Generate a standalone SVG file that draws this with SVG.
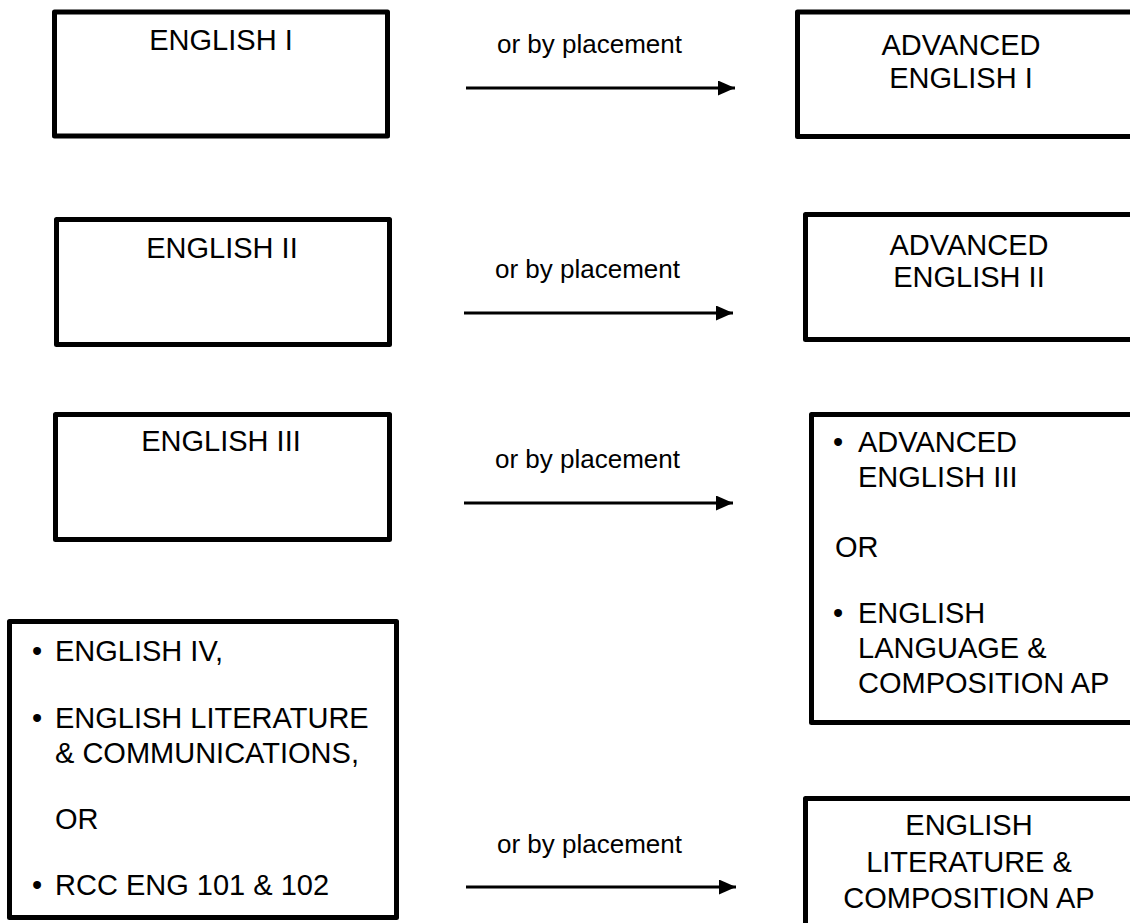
<svg xmlns="http://www.w3.org/2000/svg" width="1130" height="923" viewBox="0 0 1130 923">
<style>
.box{fill:#fff;stroke:#000;stroke-width:5;stroke-linejoin:round}
.t{font-family:"Liberation Sans",Arial,sans-serif;font-size:29px;fill:#000}
.c{text-anchor:middle}
.lbl{font-family:"Liberation Sans",Arial,sans-serif;font-size:26px;fill:#000}
.conn{stroke:#000;stroke-width:3;fill:none}
</style>
<defs>
<marker id="ah" markerUnits="userSpaceOnUse" markerWidth="17" markerHeight="15" refX="17" refY="7.5" orient="auto">
<path d="M0,0 L17,7.5 L0,15 z" fill="#000"/>
</marker>
</defs>
<rect width="1130" height="923" fill="#fff"/>
<g id="english1">
<rect class="box" x="54.5" y="12" width="333" height="124"/>
<text class="t c" x="221" y="50">ENGLISH I</text>
</g>
<g id="adv-english1">
<rect class="box" x="797.5" y="12" width="345" height="124.5"/>
<text class="t c" x="961" y="55">ADVANCED</text>
<text class="t c" x="961" y="88">ENGLISH I</text>
</g>
<g id="english2">
<rect class="box" x="56.5" y="219.5" width="333" height="125"/>
<text class="t c" x="222" y="258">ENGLISH II</text>
</g>
<g id="adv-english2">
<rect class="box" x="805.5" y="214.5" width="340" height="125"/>
<text class="t c" x="969" y="255">ADVANCED</text>
<text class="t c" x="969" y="287">ENGLISH II</text>
</g>
<g id="english3">
<rect class="box" x="55.5" y="414.5" width="334" height="125"/>
<text class="t c" x="221" y="451">ENGLISH III</text>
</g>
<g id="adv-english3">
<rect class="box" x="811.5" y="414.5" width="340" height="308"/>
<text class="t" x="833" y="452">•</text>
<text class="t" x="858" y="452">ADVANCED</text>
<text class="t" x="858" y="487">ENGLISH III</text>
<text class="t" x="835" y="557">OR</text>
<text class="t" x="833" y="623">•</text>
<text class="t" x="858" y="623">ENGLISH</text>
<text class="t" x="858" y="658">LANGUAGE &amp;</text>
<text class="t" x="858" y="693">COMPOSITION AP</text>
</g>
<g id="english4">
<rect class="box" x="9.5" y="621.5" width="387" height="296"/>
<text class="t" x="32" y="661">•</text>
<text class="t" x="55" y="661">ENGLISH IV,</text>
<text class="t" x="32" y="728">•</text>
<text class="t" x="55" y="728">ENGLISH LITERATURE</text>
<text class="t" x="55" y="763">&amp; COMMUNICATIONS,</text>
<text class="t" x="55" y="829">OR</text>
<text class="t" x="32" y="895">•</text>
<text class="t" x="55" y="895">RCC ENG 101 &amp; 102</text>
</g>
<g id="eng-lit-ap">
<rect class="box" x="805.5" y="798.5" width="340" height="200"/>
<text class="t c" x="969" y="835">ENGLISH</text>
<text class="t c" x="969" y="872">LITERATURE &amp;</text>
<text class="t c" x="969" y="908">COMPOSITION AP</text>
</g>
<g id="connectors">
<line class="conn" x1="466" y1="88" x2="735" y2="88" marker-end="url(#ah)"/>
<text class="lbl" x="497" y="53">or by placement</text>
<line class="conn" x1="464" y1="313" x2="733" y2="313" marker-end="url(#ah)"/>
<text class="lbl" x="495" y="278">or by placement</text>
<line class="conn" x1="464" y1="503" x2="733" y2="503" marker-end="url(#ah)"/>
<text class="lbl" x="495" y="468">or by placement</text>
<line class="conn" x1="466" y1="887" x2="736" y2="887" marker-end="url(#ah)"/>
<text class="lbl" x="497" y="853">or by placement</text>
</g>
</svg>
